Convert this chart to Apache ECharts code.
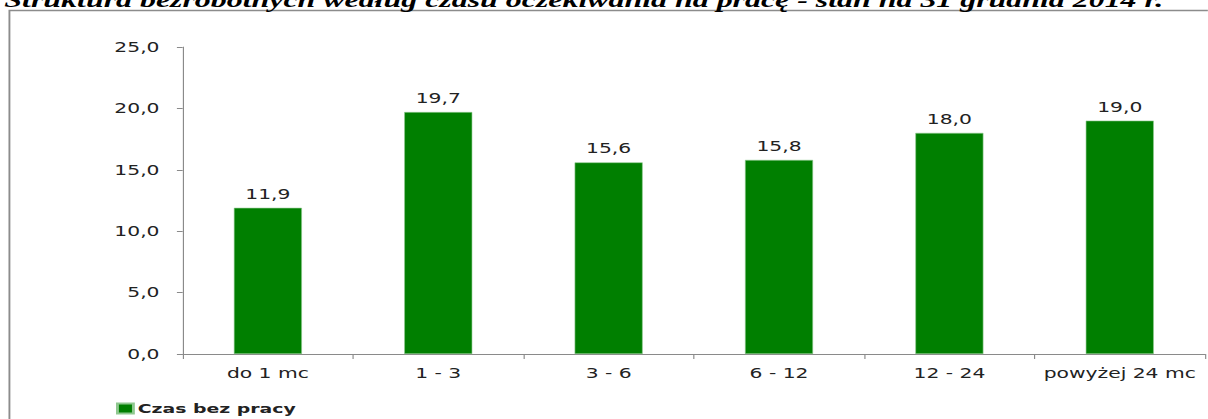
<!DOCTYPE html>
<html>
<head>
<meta charset="utf-8">
<script src="https://cdn.jsdelivr.net/npm/echarts@6/dist/echarts.min.js"></script>
<style>
  html, body { margin: 0; padding: 0; background: #fff; overflow: hidden; }
  /* oryginał jest rozciągnięty w poziomie, więc rysujemy wężej i skalujemy */
  #chart { width: 833px; height: 419px; transform: scaleX(1.45); transform-origin: 0 0; }
</style>
</head>
<body>
<div id="chart"></div>
<script>
// dane z wykresu
var categories = ['do 1 mc', '1 - 3', '3 - 6', '6 - 12', '12 - 24', 'powyżej 24 mc'];
var values = [11.9, 19.7, 15.6, 15.8, 18.0, 19.0];
var seriesName = 'Czas bez pracy';
var titleText = 'Struktura bezrobotnych według czasu oczekiwania na pracę - stan na 31 grudnia 2014 r.';

var fmt = function (v) { return Number(v).toFixed(1).replace('.', ','); };

var chart = echarts.init(document.getElementById('chart'), null, { renderer: 'svg' });

chart.setOption({
    backgroundColor: '#ffffff',
    animation: false,
    textStyle: { fontFamily: 'DejaVu Sans' },
    graphic: [
        {
            // tytuł w oryginale jest przycięty u góry
            type: 'text',
            left: 3,
            top: -11,
            style: {
                text: titleText,
                font: 'italic bold 22px "Liberation Serif"',
                fill: '#000'
            }
        },
        {
            type: 'rect',
            shape: { x: 6.5, y: 10.5, width: 860, height: 430 },
            style: { fill: 'none', stroke: '#8c8c8c', lineWidth: 1.3 },
            z: -1
        }
    ],
    legend: {
        left: 75,
        top: 397,
        itemWidth: 11,
        itemHeight: 10,
        itemGap: 4,
        icon: 'rect',
        textStyle: { fontSize: 13, fontWeight: 'bold', color: '#222', fontFamily: 'DejaVu Sans', padding: [0, 0, 0, -2] },
        data: [seriesName]
    },
    grid: { left: 126, right: 2, top: 47, bottom: 65 },
    xAxis: {
        type: 'category',
        data: categories,
        axisLine: { lineStyle: { color: '#8a8a8a', width: 1 } },
        axisTick: { show: true, length: 5, lineStyle: { color: '#8a8a8a', width: 0.8 } },
        axisLabel: { color: '#222', fontSize: 14, margin: 12, interval: 0 }
    },
    yAxis: {
        type: 'value',
        min: 0,
        max: 25,
        interval: 5,
        splitLine: { show: false },
        axisLine: { show: true, lineStyle: { color: '#8a8a8a', width: 0.8 } },
        axisTick: { show: true, length: 4, lineStyle: { color: '#8a8a8a' } },
        axisLabel: { color: '#222', fontSize: 14, margin: 16, formatter: fmt }
    },
    series: [{
        name: seriesName,
        type: 'bar',
        data: values,
        barWidth: '40%',
        itemStyle: { color: '#007f00', borderColor: '#8fc88f', borderWidth: 0.5 },
        label: {
            show: true,
            position: 'top',
            distance: 7,
            color: '#222',
            fontSize: 14,
            formatter: function (p) { return fmt(p.value); }
        }
    }]
});
</script>
</body>
</html>
